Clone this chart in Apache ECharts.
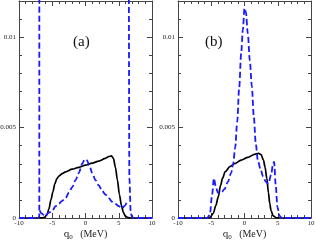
<!DOCTYPE html>
<html><head><meta charset="utf-8">
<script src="https://cdn.jsdelivr.net/npm/echarts@6/dist/echarts.min.js"></script>
<style>html,body{margin:0;padding:0;background:#fff}#c{width:315px;height:241px}</style>
</head><body><div id="c"></div>
<script>
// ---- data ----
const xTickLabels = ['-10', '-5', '0', '5', '10'];
const yTickLabels = ['0', '0.005', '0.01'];
const panelLabels = ['(a)', '(b)'];
const xTitle = 'q';
const xTitleSub = '0';
const xTitleUnit = '(MeV)';

const qBlackA = [-10,-7,-6.5,-6.1,-5.8,-5.5,-5.2,-4.9,-4.6,-4.3,-4,-3.5,-3,-2,-1,0,1,2,3,3.5,3.9,4.2,4.5,4.8,5.1,5.4,5.7,6.0,6.4,7,10];
const blackA  = [0,0,0.00001,0.00005,0.00018,0.0005,0.001,0.00145,0.0019,0.00218,0.00232,0.00245,0.00255,0.0027,0.0028,0.00292,0.00303,0.00315,0.0033,0.0034,0.00343,0.0033,0.0028,0.0021,0.0013,0.0007,0.0003,0.0001,0.00002,0,0];

// '-' marks a break in the dashed curve (the narrow off-scale spikes are drawn as single strokes)
const qBlueA = [-10,-7.1,-6.95,-6.93,-6.92,-6.88,-6.6,-6.1,-5.5,-5,-4.5,-4,-3.5,-3,-2.5,-2,-1.5,-1,-0.5,-0.1,0.2,0.6,1,1.5,2,2.5,3,3.5,4,4.5,5,5.5,6,6.2,6.25,6.38,6.6,6.8,7.0,7.3,10];
const blueA  = [0,0,0.0001,0.05,'-',0.0004,0.00026,0.0001,0.0003,0.0004,0.00065,0.0008,0.00095,0.0011,0.0014,0.0017,0.0021,0.0025,0.003,0.00325,0.0032,0.0029,0.0025,0.0021,0.0018,0.0015,0.0013,0.0011,0.0009,0.00078,0.00066,0.00055,0.0007,0.0009,'-',0.05,0.0022,0.0003,0.00005,0,0];

const qBlackB = [-10,-5.6,-5.2,-4.7,-4.3,-3.94,-3.6,-3.3,-2.9,-2.2,-1.5,-0.5,0.5,1.5,2.1,2.5,2.85,3.1,3.35,3.6,3.8,4.0,4.3,4.8,5.2,10];
const blackB  = [0,0,0.00003,0.00026,0.0007,0.00118,0.0018,0.0022,0.00256,0.00284,0.003,0.0032,0.00335,0.00352,0.00357,0.0035,0.0032,0.0028,0.0022,0.0014,0.0008,0.0004,0.00012,0.00001,0,0];

const qBlueB = [-10,-5.6,-5.2,-4.9,-4.6,-4.3,-4,-3.5,-3,-2.5,-2,-1.7,-1.4,-1.1,-0.8,-0.5,-0.25,0,0.2,0.5,0.8,1.1,1.4,1.7,2,2.4,2.8,3.2,3.6,4,4.3,4.45,4.7,4.95,5.3,5.6,10];
const blueB  = [0,0,0.0002,0.0012,0.0022,0.0017,0.0014,0.0014,0.0016,0.002,0.0025,0.003,0.0039,0.0053,0.0072,0.0091,0.0104,0.0116,0.0114,0.0102,0.0087,0.0073,0.0056,0.0041,0.0032,0.0027,0.0023,0.002,0.0019,0.0024,0.003,0.0031,0.0018,0.0006,0.0001,0,0];

// ---- chart ----
const FONT = 'Liberation Serif';
const AXC = '#444';
const pairs = (xs, ys) => xs.map((x, i) => [x, ys[i]]);

const grids = [
  {left: 19, top: 1, width: 133, height: 217, outerBoundsMode: 'none', containLabel: false},
  {left: 178, top: 1, width: 133, height: 217, outerBoundsMode: 'none', containLabel: false}
];
const xAxes = [], yAxes = [], series = [], titles = [];
grids.forEach((g, gi) => {
  ['bottom', 'top'].forEach(pos => {
    xAxes.push({
      type: 'value', gridIndex: gi, position: pos, min: -10, max: 10, interval: 5,
      axisLine: {show: true, onZero: false, lineStyle: {color: AXC, width: 1}},
      axisTick: {show: true, inside: true, length: 5, lineStyle: {color: AXC}},
      minorTick: {show: true, splitNumber: 5, length: 3, lineStyle: {color: AXC}},
      splitLine: {show: false}, minorSplitLine: {show: false},
      axisLabel: pos === 'bottom' ? {show: true, margin: 2, fontFamily: FONT, fontSize: 7, color: '#222',
        formatter: v => { const s = String(v); return xTickLabels.includes(s) ? s : ''; }} : {show: false},
      name: pos === 'bottom' ? '{q|' + xTitle + '}{s|' + xTitleSub + '}{u|   ' + xTitleUnit + '}' : '',
      nameLocation: 'middle', nameGap: 10, nameMoveOverlap: false,
      nameTextStyle: {rich: {
        q: {fontFamily: FONT, fontSize: 11, color: '#222'},
        s: {fontFamily: FONT, fontSize: 7, color: '#222', padding: [6, 0, 0, 0]},
        u: {fontFamily: FONT, fontSize: 10, color: '#222'}
      }}
    });
  });
  ['left', 'right'].forEach(pos => {
    yAxes.push({
      type: 'value', gridIndex: gi, position: pos, min: 0, max: 0.012, interval: 0.005,
      axisLine: {show: true, onZero: false, lineStyle: {color: AXC, width: 1}},
      axisTick: {show: true, inside: true, length: 5, lineStyle: {color: AXC}},
      splitLine: {show: false},
      axisLabel: pos === 'left' ? {show: true, margin: 3, fontFamily: FONT, fontSize: 7, color: '#222',
        formatter: v => { const s = String(+v.toFixed(4)); return yTickLabels.includes(s) ? s : ''; }} : {show: false}
    });
    yAxes.push({
      type: 'value', gridIndex: gi, position: pos, min: 0, max: 0.012, interval: 0.001,
      axisLine: {show: false, onZero: false},
      axisTick: {show: true, inside: true, length: 3, lineStyle: {color: AXC}},
      splitLine: {show: false}, axisLabel: {show: false}
    });
  });
  titles.push({text: panelLabels[gi], top: 35, left: gi === 0 ? 73 : 205, padding: 0,
    textStyle: {fontFamily: FONT, fontSize: 15, fontWeight: 'normal', color: '#111'}});
});

const xi = gi => gi * 2, yi = gi => gi * 4;
[[qBlackA, blackA, qBlueA, blueA], [qBlackB, blackB, qBlueB, blueB]].forEach((d, gi) => {
  series.push({type: 'line', xAxisIndex: xi(gi), yAxisIndex: yi(gi), data: pairs(d[0], d[1]),
    showSymbol: false, smooth: 0.3, smoothMonotone: 'x', clip: true,
    lineStyle: {color: '#000', width: 1.7}});
  series.push({type: 'line', xAxisIndex: xi(gi), yAxisIndex: yi(gi), data: pairs(d[2], d[3]),
    showSymbol: false, smooth: 0.3, smoothMonotone: 'x', clip: true, connectNulls: false,
    lineStyle: {color: '#1a1aff', width: 1.8, type: [6, 3]}});
});

const chart = echarts.init(document.getElementById('c'), null, {renderer: 'canvas'});
chart.setOption({
  animation: false, backgroundColor: '#fff',
  title: titles, grid: grids, xAxis: xAxes, yAxis: yAxes, series: series
});
</script></body></html>
